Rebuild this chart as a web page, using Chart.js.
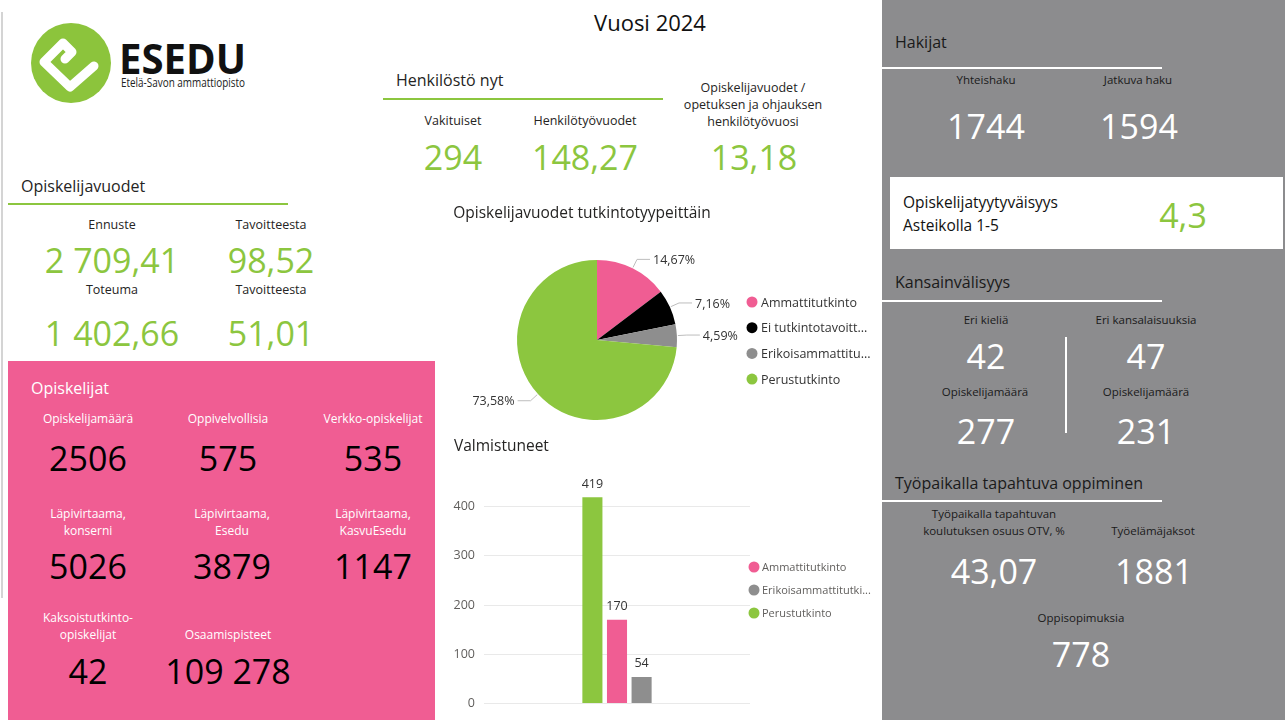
<!DOCTYPE html>
<html>
<head>
<meta charset="utf-8">
<script src="https://cdn.jsdelivr.net/npm/chart.js@4/dist/chart.umd.min.js"></script>
<style>
  html, body { margin:0; padding:0; background:#fff; }
  body { width:1285px; height:720px; position:relative; overflow:hidden; font-family:'Segoe UI','Open Sans',sans-serif; }
  .t { position:absolute; white-space:nowrap; line-height:1; }
  .box { position:absolute; }
  canvas { position:absolute; }
</style>
</head>
<body>
<div class="box" style="left:1px;top:12px;width:2px;height:586px;background:#d4d4d4"></div>
<div class="box" style="left:8px;top:361px;width:427px;height:359px;background:#F05D93"></div>
<div class="box" style="left:882px;top:0;width:403px;height:720px;background:#8c8c8e"></div>
<div class="box" style="left:890px;top:177px;width:393px;height:72px;background:#fff"></div>
<div class="box" style="left:383px;top:98px;width:280px;height:2px;background:#8cc63f"></div>
<div class="box" style="left:8px;top:203px;width:280px;height:2px;background:#8cc63f"></div>
<div class="box" style="left:882px;top:67px;width:280px;height:2px;background:#fff"></div>
<div class="box" style="left:882px;top:300px;width:280px;height:2px;background:#fff"></div>
<div class="box" style="left:882px;top:500px;width:280px;height:2px;background:#fff"></div>
<div class="box" style="left:1065px;top:337px;width:2px;height:96px;background:#fff"></div>

<svg class="box" style="left:0;top:0" width="260" height="120">
  <circle cx="71" cy="63" r="40" fill="#8cc43c"/>
  <path d="M65 59 L72 52 L63 43 L44 62 L70 87 L94 66" fill="none" stroke="#fff" stroke-width="9" stroke-linejoin="round" stroke-linecap="round"/>
</svg>

<canvas id="pie" width="440" height="230" style="left:440px;top:200px"></canvas>
<canvas id="bar" width="440" height="290" style="left:440px;top:430px"></canvas>

<script>
// ---------- data ----------
const pieCategories = ['Ammattitutkinto', 'Ei tutkintotavoitteinen koulutus', 'Erikoisammattitutkinto', 'Perustutkinto'];
const pieValues = [14.67, 7.16, 4.59, 73.58];
const barSeries = ['Perustutkinto', 'Ammattitutkinto', 'Erikoisammattitutkinto'];
const barValues = [419, 170, 54];
const barCategories = ['2024'];
const yTicks = [0, 100, 200, 300, 400];

const henkilostoLabels = ['Vakituiset', 'Henkilötyövuodet'];
const henkilostoValues = ['294', '148,27'];
const opvLabels = ['Ennuste', 'Tavoitteesta', 'Toteuma', 'Tavoitteesta'];
const opvValues = ['2 709,41', '98,52', '1 402,66', '51,01'];
const opiskelijatValues = ['2506', '575', '535', '5026', '3879', '1147', '42', '109 278'];
const hakijatValues = ['1744', '1594'];
const kvValues = ['42', '47', '277', '231'];
const tyoValues = ['43,07', '1881', '778'];

// ---------- colors ----------
const PINK = '#F05D93', GREEN = '#8cc63f', GREY = '#8e8e8e', BLACK = '#000000';
const pieColors = [PINK, BLACK, GREY, GREEN];
const barColorMap = { 'Perustutkinto': GREEN, 'Ammattitutkinto': PINK, 'Erikoisammattitutkinto': GREY };
const FONT = "'Segoe UI','Open Sans',sans-serif";

// ---------- text helper ----------
function T(text, x, y, size, color, align, weight) {
  const d = document.createElement('div');
  d.className = 't';
  d.textContent = text;
  d.style.fontSize = size + 'px';
  d.style.color = color;
  d.style.left = x + 'px';
  d.style.top = y + 'px';
  d.style.fontWeight = weight || 400;
  d.style.transform = (align === 'left' ? 'translate(0,-50%)' : 'translate(-50%,-50%)');
  document.body.appendChild(d);
  return d;
}
function fitW(el, w) {
  const r = el.getBoundingClientRect().width;
  if (r > 0) { el.style.transformOrigin = '0 50%'; el.style.transform += ' scaleX(' + (w / r) + ')'; }
}
const DK = '#252423';

// logo
const logoT = T('ESEDU', 119, 58, 42, '#111', 'left', 700);
fitW(logoT, 127);
const logoS = T('Etelä-Savon ammattiopisto', 121, 83, 12.5, '#222', 'left');
fitW(logoS, 124);

T('Vuosi 2024', 650, 22, 22, '#111');

// Henkilöstö
T('Henkilöstö nyt', 396, 80, 16, DK, 'left');
T(henkilostoLabels[0], 453, 121, 12.5, DK);
T(henkilostoLabels[1], 585, 121, 12.5, DK);
T('Opiskelijavuodet /', 753, 88, 12.5, DK);
T('opetuksen ja ohjauksen', 753, 105, 12.5, DK);
T('henkilötyövuosi', 753, 122, 12.5, DK);
T(henkilostoValues[0], 453, 157, 34, GREEN);
T(henkilostoValues[1], 585, 157, 34, GREEN);
T('13,18', 754, 157, 34, GREEN);

// Opiskelijavuodet
T('Opiskelijavuodet', 21, 186, 16, DK, 'left');
T(opvLabels[0], 112, 225, 12.5, DK);
T(opvLabels[1], 271, 225, 12.5, DK);
T(opvValues[0], 112, 260, 34, GREEN);
T(opvValues[1], 271, 260, 34, GREEN);
T(opvLabels[2], 112, 290, 12.5, DK);
T(opvLabels[3], 271, 290, 12.5, DK);
T(opvValues[2], 112, 333, 34, GREEN);
T(opvValues[3], 271, 333, 34, GREEN);

// Opiskelijat (pink)
const W = '#fff';
T('Opiskelijat', 31, 388, 16, W, 'left');
T('Opiskelijamäärä', 88, 419, 12, W);
T('Oppivelvollisia', 228, 419, 12, W);
T('Verkko-opiskelijat', 373, 419, 12, W);
T(opiskelijatValues[0], 88, 458, 34, '#000');
T(opiskelijatValues[1], 228, 458, 34, '#000');
T(opiskelijatValues[2], 373, 458, 34, '#000');
T('Läpivirtaama,', 88, 514, 12, W); T('konserni', 88, 531, 12, W);
T('Läpivirtaama,', 232, 514, 12, W); T('Esedu', 232, 531, 12, W);
T('Läpivirtaama,', 373, 514, 12, W); T('KasvuEsedu', 373, 531, 12, W);
T(opiskelijatValues[3], 88, 566, 34, '#000');
T(opiskelijatValues[4], 232, 566, 34, '#000');
T(opiskelijatValues[5], 373, 566, 34, '#000');
T('Kaksoistutkinto-', 88, 618, 12, W); T('opiskelijat', 88, 635, 12, W);
T('Osaamispisteet', 228, 635, 12, W);
T(opiskelijatValues[6], 88, 671, 34, '#000');
T(opiskelijatValues[7], 228, 671, 34, '#000');

// Grey panel
T('Hakijat', 895, 42, 16, '#1a1a1a', 'left');
T('Yhteishaku', 986, 80, 11.5, '#1a1a1a');
T('Jatkuva haku', 1138, 80, 11.5, '#1a1a1a');
T(hakijatValues[0], 986, 126, 34, W);
T(hakijatValues[1], 1139, 126, 34, W);
T('Opiskelijatyytyväisyys', 903, 203, 15.5, '#111', 'left');
T('Asteikolla 1-5', 903, 226, 15.5, '#111', 'left');
T('4,3', 1183, 215, 34, GREEN);
T('Kansainvälisyys', 895, 282, 16, '#1a1a1a', 'left');
T('Eri kieliä', 986, 320, 11.5, '#1a1a1a');
T('Eri kansalaisuuksia', 1146, 320, 11.5, '#1a1a1a');
T(kvValues[0], 986, 356, 34, W);
T(kvValues[1], 1146, 356, 34, W);
T('Opiskelijamäärä', 985, 392, 11.5, '#1a1a1a');
T('Opiskelijamäärä', 1146, 392, 11.5, '#1a1a1a');
T(kvValues[2], 986, 431, 34, W);
T(kvValues[3], 1146, 431, 34, W);
T('Työpaikalla tapahtuva oppiminen', 895, 483, 16, '#1a1a1a', 'left');
T('Työpaikalla tapahtuvan', 994, 514, 11.5, '#1a1a1a');
T('koulutuksen osuus OTV, %', 994, 531, 11.5, '#1a1a1a');
T('Työelämäjaksot', 1153, 531, 11.5, '#1a1a1a');
T(tyoValues[0], 994, 571, 34, W);
T(tyoValues[1], 1154, 571, 34, W);
T('Oppisopimuksia', 1081, 618, 11.5, '#1a1a1a');
T(tyoValues[2], 1081, 654, 34, W);

// chart titles
T('Opiskelijavuodet tutkintotyypeittäin', 582, 213, 15.5, DK);
T('Valmistuneet', 454, 446, 15.5, DK, 'left');

// ---------- charts ----------
Chart.defaults.font.family = FONT;

function truncate(ctx, s, maxW) {
  if (ctx.measureText(s).width <= maxW) return s;
  let t = s;
  while (t.length > 1 && ctx.measureText(t + '...').width > maxW) t = t.slice(0, -1);
  return t + '...';
}

const pieLabelsPlugin = {
  id: 'pieLabels',
  afterDatasetsDraw(chart) {
    const ctx = chart.ctx;
    const meta = chart.getDatasetMeta(0);
    ctx.save();
    ctx.font = '12.5px ' + FONT;
    meta.data.forEach((arc, i) => {
      const p = arc.getProps(['x', 'y', 'startAngle', 'endAngle', 'outerRadius'], true);
      const mid = (p.startAngle + p.endAngle) / 2;
      const c = Math.cos(mid), s = Math.sin(mid);
      const x0 = p.x + c * (p.outerRadius + 1), y0 = p.y + s * (p.outerRadius + 1);
      const x1 = p.x + c * (p.outerRadius + 10), y1 = p.y + s * (p.outerRadius + 10);
      const dir = c >= 0 ? 1 : -1;
      const x2 = x1 + dir * 13;
      ctx.strokeStyle = '#bdbdbd';
      ctx.lineWidth = 1;
      ctx.beginPath(); ctx.moveTo(x0, y0); ctx.lineTo(x1, y1); ctx.lineTo(x2, y1); ctx.stroke();
      ctx.fillStyle = '#333';
      ctx.textBaseline = 'middle';
      ctx.textAlign = dir > 0 ? 'left' : 'right';
      const v = chart.data.datasets[0].data[i];
      ctx.fillText(v.toFixed(2).replace('.', ',') + '%', x2 + dir * 3, y1 + 1);
    });
    // legend
    ctx.font = '12.5px ' + FONT;
    chart.data.labels.forEach((lab, i) => {
      const y = 102 + i * 25.7;
      ctx.fillStyle = pieColors[i];
      ctx.beginPath(); ctx.arc(312, y, 5.5, 0, Math.PI * 2); ctx.fill();
      ctx.fillStyle = '#333';
      ctx.textAlign = 'left'; ctx.textBaseline = 'middle';
      ctx.fillText(truncate(ctx, lab, 110), 321, y + 1);
    });
    ctx.restore();
  }
};

new Chart(document.getElementById('pie'), {
  type: 'pie',
  data: { labels: pieCategories, datasets: [{ data: pieValues, backgroundColor: pieColors, borderWidth: 0 }] },
  options: {
    responsive: false, animation: false, devicePixelRatio: 1,
    layout: { padding: { left: 77, right: 203, top: 60, bottom: 10 } },
    plugins: { legend: { display: false }, tooltip: { enabled: false } }
  },
  plugins: [pieLabelsPlugin]
});

const barPlugin = {
  id: 'barExtras',
  afterDatasetsDraw(chart) {
    const ctx = chart.ctx;
    ctx.save();
    ctx.font = '12.5px ' + FONT;
    ctx.fillStyle = '#333';
    ctx.textAlign = 'center'; ctx.textBaseline = 'middle';
    chart.data.datasets.forEach((ds, i) => {
      const el = chart.getDatasetMeta(i).data[0];
      ctx.fillText(String(ds.data[0]), el.x, el.y - 13);
    });
    // legend (alphabetical)
    const order = chart.data.datasets.map(d => d.label).slice().sort();
    ctx.font = '11px ' + FONT;
    order.forEach((lab, i) => {
      const y = 137 + i * 23;
      ctx.fillStyle = barColorMap[lab];
      ctx.beginPath(); ctx.arc(314, y, 5.5, 0, Math.PI * 2); ctx.fill();
      ctx.fillStyle = '#605e5c';
      ctx.textAlign = 'left';
      ctx.fillText(truncate(ctx, lab, 112), 322, y + 1);
    });
    ctx.restore();
  }
};

new Chart(document.getElementById('bar'), {
  type: 'bar',
  data: {
    labels: barCategories,
    datasets: barSeries.map((name, i) => ({
      label: name, data: [barValues[i]], backgroundColor: barColorMap[name], borderWidth: 0,
      categoryPercentage: 0.2774, barPercentage: 0.816
    }))
  },
  options: {
    responsive: false, animation: false, devicePixelRatio: 1,
    layout: { padding: { left: 0, right: 130, top: 47, bottom: 12 } },
    scales: {
      x: { display: false },
      y: {
        min: 0, max: 460,
        afterFit(scale) { scale.width = 44; },
        afterBuildTicks(scale) { scale.ticks = yTicks.map(v => ({ value: v })); },
        border: { display: false },
        grid: { color: '#e9e9e9', drawTicks: false, lineWidth: 1 },
        ticks: { padding: 9, color: '#605e5c', font: { size: 12.5 } }
      }
    },
    plugins: { legend: { display: false }, tooltip: { enabled: false } }
  },
  plugins: [barPlugin]
});
</script>
</body>
</html>
